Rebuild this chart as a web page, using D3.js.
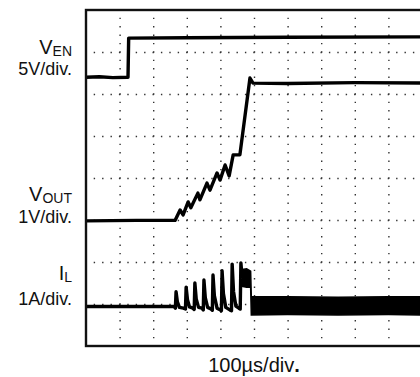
<!DOCTYPE html>
<html>
<head>
<meta charset="utf-8">
<script src="https://cdn.jsdelivr.net/npm/d3@7"></script>
<style>
  body { margin: 0; background: #fff; }
  svg { display: block; }
  text { font-family: "Liberation Sans", Arial, Helvetica, sans-serif; fill: #111; }
</style>
</head>
<body>
<svg id="chart"></svg>
<script>
// time in µs (100µs/div), levels in screen divisions (0 = bottom, 8 = top)
const timeTicks = [100, 200, 300, 400, 500, 600, 700, 800, 900];
const levelTicks = [1, 2, 3, 4, 5, 6, 7];

const venTrace = [
  [0, 6.40], [40, 6.41], [80, 6.39], [125, 6.40],
  [127, 7.33], [300, 7.34], [600, 7.35], [1000, 7.36]
];

const voutTrace = [
  [0, 2.98], [150, 2.99], [265, 2.99],
  [280, 3.24], [289, 3.12], [304, 3.43], [312, 3.29],
  [333, 3.64], [339, 3.48], [360, 3.88], [369, 3.71],
  [390, 4.12], [399, 3.95], [414, 4.31], [426, 4.05],
  [438, 4.55], [458, 4.55], [488, 6.38], [497, 6.26],
  [600, 6.25], [800, 6.27], [1000, 6.26]
];

const ilTrace = [
  [0, 0.94], [262, 0.94], [266, 0.90], [268, 1.29], [272, 1.05], [278, 0.92],
  [290, 0.90], [296, 0.88], [298, 1.40], [302, 1.10], [308, 0.93],
  [318, 0.90], [322, 0.87], [324, 1.50], [328, 1.12], [335, 0.92],
  [345, 0.90], [349, 0.86], [351, 1.57], [355, 1.15], [362, 0.92],
  [372, 0.88], [376, 0.85], [378, 1.69], [382, 1.20], [390, 0.90],
  [399, 0.86], [403, 0.84], [405, 1.79], [409, 1.25], [416, 0.92],
  [428, 0.86], [433, 0.84], [435, 1.95], [439, 1.30], [446, 0.95],
  [455, 0.90], [459, 0.88], [461, 1.98], [465, 1.60]
];

// ripple envelope of I_L: [time, low, high]
const ilBand = [
  [465, 1.42, 1.82], [478, 1.40, 1.84], [490, 1.40, 1.78],
  [492, 0.74, 1.17], [600, 0.75, 1.17], [750, 0.74, 1.16],
  [900, 0.75, 1.17], [1000, 0.74, 1.17]
];

const W = 420, H = 377;
const svg = d3.select("#chart").attr("width", W).attr("height", H);

const x = d3.scaleLinear().domain([0, 1000]).range([86, 422]);
const y = d3.scaleLinear().domain([0, 8]).range([346, 10]);

// dotted graticule
svg.append("g")
  .attr("transform", "translate(0," + y(0) + ")")
  .call(d3.axisBottom(x).tickValues(timeTicks).tickSize(-(y(0) - y(8))).tickFormat(""))
  .call(g => g.select(".domain").remove())
  .selectAll("line")
  .attr("stroke", "#333")
  .attr("stroke-width", 1.4)
  .attr("stroke-dasharray", "1.4 7")
  .attr("stroke-dashoffset", 0.7);

svg.append("g")
  .attr("transform", "translate(" + x(0) + ",0)")
  .call(d3.axisLeft(y).tickValues(levelTicks).tickSize(-(x(1000) - x(0))).tickFormat(""))
  .call(g => g.select(".domain").remove())
  .selectAll("line")
  .attr("stroke", "#333")
  .attr("stroke-width", 1.4)
  .attr("stroke-dasharray", "1.4 7")
  .attr("stroke-dashoffset", 0.7);

// traces
const line = d3.line().x(d => x(d[0])).y(d => y(d[1]));

svg.append("path")
  .datum(ilBand)
  .attr("fill", "#000")
  .attr("stroke", "#000")
  .attr("stroke-width", 1.5)
  .attr("d", d3.area().x(d => x(d[0])).y0(d => y(d[1])).y1(d => y(d[2])));

[venTrace, voutTrace, ilTrace].forEach(tr => {
  svg.append("path")
    .datum(tr)
    .attr("fill", "none")
    .attr("stroke", "#000")
    .attr("stroke-width", 3.4)
    .attr("stroke-linejoin", "round")
    .attr("d", line);
});

// frame
svg.append("rect")
  .attr("x", x(0)).attr("y", y(8))
  .attr("width", x(1000) - x(0)).attr("height", y(0) - y(8))
  .attr("fill", "none").attr("stroke", "#111").attr("stroke-width", 2.4);

// channel labels
const labels = [
  { main: "V", sub: "EN", scale: "5V/div.", base: 54, dy: 2, gap: 21 },
  { main: "V", sub: "OUT", scale: "1V/div.", base: 201, dy: 1.5, gap: 22 },
  { main: "I", sub: "L", scale: "1A/div.", base: 280, dy: 2, gap: 25 }
];

labels.forEach(l => {
  const t = svg.append("text").attr("x", 72).attr("y", l.base).attr("text-anchor", "end");
  t.append("tspan").attr("font-size", 20).text(l.main);
  t.append("tspan").attr("font-size", 14).attr("dy", l.dy).text(l.sub);
  svg.append("text")
    .attr("x", 72).attr("y", l.base + l.gap)
    .attr("text-anchor", "end").attr("font-size", 18)
    .text(l.scale);
});

const tl = svg.append("text")
  .attr("x", (x(0) + x(1000)) / 2).attr("y", 372)
  .attr("text-anchor", "middle").attr("font-size", 20);
tl.append("tspan").text("100µs/div");
tl.append("tspan").attr("font-weight", "bold").text(".");
</script>
</body>
</html>
